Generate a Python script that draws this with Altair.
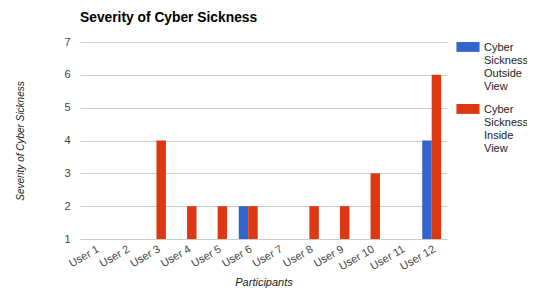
import altair as alt
import pandas as pd

users = ["User 1", "User 2", "User 3", "User 4", "User 5", "User 6",
         "User 7", "User 8", "User 9", "User 10", "User 11", "User 12"]
outside_view = [1, 1, 1, 1, 1, 2, 1, 1, 1, 1, 1, 4]
inside_view = [1, 1, 4, 2, 2, 2, 1, 2, 2, 3, 1, 6]
series = ["Cyber Sickness Outside View", "Cyber Sickness Inside View"]
colors = ["#3366cc", "#dc3912"]

rows = []
for u, o, i in zip(users, outside_view, inside_view):
    rows.append({"user": u, "series": series[0], "value": o})
    rows.append({"user": u, "series": series[1], "value": i})
df = pd.DataFrame(rows)

FONT = "Liberation Sans"

chart = alt.Chart(df).mark_bar().encode(
    x=alt.X("user:N", sort=users, title="Participants",
            scale=alt.Scale(paddingInner=0.38, paddingOuter=0.19),
            axis=alt.Axis(labelAngle=-30, labelAlign="right", labelBaseline="top",
                          labelPadding=4, ticks=False, domain=False, grid=False,
                          titlePadding=5)),
    xOffset=alt.XOffset("series:N", sort=series),
    y=alt.Y("value:Q", title="Severity of Cyber Sickness",
            scale=alt.Scale(domain=[1, 7], zero=False, nice=False),
            axis=alt.Axis(values=[1, 2, 3, 4, 5, 6, 7], ticks=False, domain=False,
                          labelPadding=10, titlePadding=38, titleFontSize=10)),
    y2=alt.datum(1),
    color=alt.Color("series:N", scale=alt.Scale(domain=series, range=colors),
                    legend=alt.Legend(title=None, orient="none", legendX=376, legendY=-12,
                                      labelExpr="split(datum.label, ' ')",
                                      labelBaseline="top", labelFontSize=11,
                                      symbolType="M-1.05,0H1.05V0.9H-1.05Z",
                                      symbolSize=484, rowPadding=0, labelOffset=4)),
).properties(
    width=367, height=197,
    title=alt.Title("Severity of Cyber Sickness", anchor="start", frame="group",
                    fontSize=13.8, fontWeight="bold", font=FONT, color="#000000",
                    offset=5),
    autosize=alt.AutoSizeParams(type="none"),
    padding={"left": 72, "top": 34, "right": 80, "bottom": 49},
).configure_view(stroke=None).configure_axis(
    labelFont=FONT, titleFont=FONT, labelFontSize=11, titleFontSize=11,
    labelColor="#444444", titleColor="#222222", titleFontStyle="italic",
    titleFontWeight="normal", gridColor="#cccccc"
).configure_legend(labelFont=FONT, labelColor="#222222")

chart.save("out.html", embed_options={"renderer": "svg", "actions": False})
